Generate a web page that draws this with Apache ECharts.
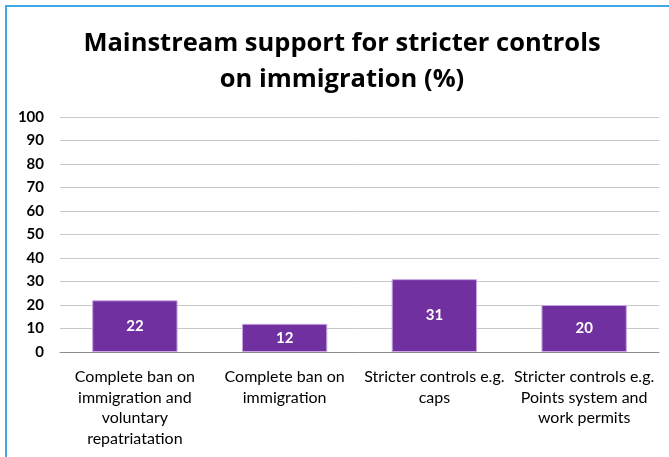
<!DOCTYPE html>
<html>
<head>
<meta charset="utf-8">
<script src="https://cdn.jsdelivr.net/npm/echarts@6/dist/echarts.min.js"></script>
<style>
  html, body { margin: 0; padding: 0; background: #ffffff; overflow: hidden; }
  #frame { position: absolute; left: 5px; top: 5px; width: 700px; height: 500px;
           border-left: 2px solid #3fa9e8; border-top: 2px solid #3fa9e8; box-sizing: border-box; }
  /* chart area runs a little past the window edge, as the framed chart does */
  #chart { position: absolute; left: 0; top: 0; width: 684px; height: 457px; }
</style>
</head>
<body>
<div id="frame"></div>
<div id="chart"></div>
<script>
// Survey categories (line breaks as printed under the axis)
const categories = [
  'Complete ban on\nimmigration and\nvoluntary\nrepatriatation',
  'Complete ban on\nimmigration',
  'Stricter controls e.g.\ncaps',
  'Stricter controls e.g.\nPoints system and\nwork permits'
];
// Share of mainstream respondents (%)
const supportValues = [22, 12, 31, 20];
const yTicks = { min: 0, max: 100, step: 10 };

const chart = echarts.init(document.getElementById('chart'), null, { renderer: 'canvas' });
chart.setOption({
  animation: false,
  title: {
    text: 'Mainstream support for stricter controls\non immigration (%)',
    left: 'center',
    top: 21,
    textStyle: {
      fontFamily: 'Open Sans',
      fontWeight: 'bold',
      fontSize: 25.5,
      lineHeight: 36,
      color: '#000000'
    }
  },
  grid: { left: 60, right: 25, top: 117, bottom: 105, containLabel: false },
  xAxis: {
    type: 'category',
    data: categories,
    axisTick: { show: false },
    axisLine: { lineStyle: { color: '#8c8c8c', width: 1 } },
    axisLabel: {
      interval: 0,
      margin: 15,
      fontFamily: 'Lato',
      fontSize: 16,
      lineHeight: 20.5,
      color: '#000000'
    }
  },
  yAxis: {
    type: 'value',
    min: yTicks.min,
    max: yTicks.max,
    interval: yTicks.step,
    axisLine: { show: false },
    axisTick: { show: false },
    splitLine: { lineStyle: { color: '#c8c8c8', width: 1 } },
    axisLabel: {
      margin: 16,
      fontFamily: 'Lato',
      fontWeight: 'bold',
      fontSize: 15,
      color: '#000000'
    }
  },
  series: [{
    type: 'bar',
    data: supportValues,
    barWidth: '57%',
    itemStyle: { color: '#7030a0', borderColor: '#c9a6e3', borderWidth: 1 },
    label: {
      show: true,
      position: 'inside',
      fontFamily: 'Lato',
      fontWeight: 'bold',
      fontSize: 15,
      color: '#ffffff'
    }
  }]
});
</script>
</body>
</html>
